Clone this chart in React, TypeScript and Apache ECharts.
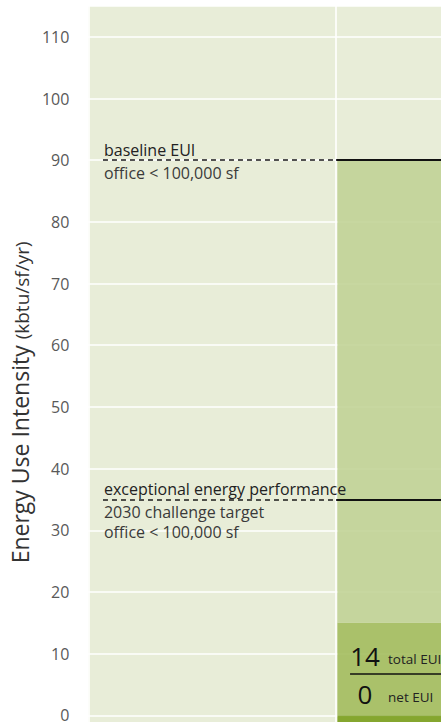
import React, { useEffect, useRef } from "react";
import * as echarts from "echarts";

// ---- data ----
const categories = ["baseline", "design"];
const offsetValues = [null, -15]; // dark segment below zero
const totalValues = [null, 15]; // medium segment 0..15
const remainingValues = [null, 75]; // light segment 15..90

const baselineEUI = 90;
const targetEUI = 35;
const dividerLevel = 6.8;
const totalEUI = 14;
const netEUI = 0;

const baselineTitle = "baseline EUI";
const baselineSub = "office < 100,000 sf";
const targetTitle = "exceptional energy performance";
const targetSub = ["2030 challenge target", "office < 100,000 sf"];

const yMin = -15;
const yMax = 115;

const FONT = "'Open Sans', sans-serif";

export default function App() {
  const ref = useRef<HTMLDivElement>(null);

  useEffect(() => {
    if (!ref.current) return;
    const chart = echarts.init(ref.current, null, { renderer: "svg" });

    const dashStart = 0.059;
    const divStart = 1.056;

    const dashedStyle = { color: "#1a1a1a", width: 1.6, type: [5, 4] as any, opacity: 1 };
    const solidStyle = { color: "#111", width: 2, type: "solid" as any, opacity: 1 };
    const hidden = { color: "rgba(0,0,0,0)", width: 0, opacity: 1 };

    const titleLabel = (text: string) => ({
      show: true,
      position: "insideStartTop",
      distance: [1, 2],
      formatter: text,
      color: "#222",
      fontSize: 16,
      fontFamily: FONT,
    });
    const subLabel = (text: string) => ({
      show: true,
      position: "insideStartBottom",
      distance: [1, 3],
      formatter: text,
      color: "#3a3a3a",
      fontSize: 16,
      lineHeight: 20,
      fontFamily: FONT,
    });
    const noLabel = { show: false };

    const rich = {
      num: { fontSize: 26, width: 30, align: "center", color: "#111", fontFamily: FONT, verticalAlign: "bottom" },
      txt: { fontSize: 13.5, color: "#222", fontFamily: FONT, padding: [0, 0, 3, 8], verticalAlign: "bottom" },
    };

    const option: any = {
      animation: false,
      grid: {
        left: 86,
        top: 6,
        width: 498,
        height: 801.8,
        show: true,
        backgroundColor: "#e8edd8",
        borderWidth: 0,
      },
      xAxis: [
        {
          type: "category",
          data: categories,
          axisLabel: { show: false },
          axisLine: { show: false },
          axisTick: { show: false },
          splitLine: { show: true, interval: 0, lineStyle: { color: "#ffffff", width: 1.6 } },
        },
        { type: "value", min: 0, max: 2, show: false },
      ],
      yAxis: {
        type: "value",
        min: yMin,
        max: yMax,
        splitNumber: 13,
        minInterval: 10,
        maxInterval: 10,
        axisLine: { show: false },
        axisTick: { show: false },
        axisLabel: {
          color: "#595959",
          fontSize: 16,
          fontFamily: FONT,
          margin: 19,
          showMinLabel: false,
          showMaxLabel: false,
        },
        splitLine: { show: true, lineStyle: { color: "#ffffff", width: 1.5 } },
        name: "{a|Energy Use Intensity }{b|(kbtu/sf/yr)}",
        nameLocation: "middle",
        nameRotate: 90,
        nameGap: 55,
        nameTextStyle: {
          padding: [0, 0, 0, 9],
          rich: {
            a: { fontSize: 23, color: "#333", fontFamily: FONT, verticalAlign: "bottom" },
            b: { fontSize: 19, color: "#333", fontFamily: FONT, verticalAlign: "bottom" },
          },
        },
      },
      series: [
        {
          type: "bar",
          stack: "eui",
          data: offsetValues,
          barCategoryGap: "1%",
          itemStyle: { color: "rgba(118,156,23,0.88)" },
        },
        {
          type: "bar",
          stack: "eui",
          data: totalValues,
          barCategoryGap: "1%",
          itemStyle: { color: "rgba(160,187,90,0.88)" },
        },
        {
          type: "bar",
          stack: "eui",
          data: remainingValues,
          barCategoryGap: "1%",
          itemStyle: { color: "rgba(191,209,148,0.88)" },
        },
        {
          type: "line",
          xAxisIndex: 1,
          yAxisIndex: 0,
          data: [],
          silent: true,
          markLine: {
            silent: true,
            symbol: "none",
            animation: false,
            data: [
              [
                { coord: [dashStart, baselineEUI], lineStyle: dashedStyle, label: titleLabel(baselineTitle) },
                { coord: [1, baselineEUI] },
              ],
              [
                { coord: [dashStart, baselineEUI], lineStyle: hidden, label: subLabel(baselineSub) },
                { coord: [1, baselineEUI] },
              ],
              [
                { coord: [1, baselineEUI], lineStyle: solidStyle, label: noLabel },
                { coord: [2, baselineEUI] },
              ],
              [
                { coord: [dashStart, targetEUI], lineStyle: dashedStyle, label: titleLabel(targetTitle) },
                { coord: [1, targetEUI] },
              ],
              [
                { coord: [dashStart, targetEUI], lineStyle: hidden, label: subLabel(targetSub.join("\n")) },
                { coord: [1, targetEUI] },
              ],
              [
                { coord: [1, targetEUI], lineStyle: solidStyle, label: noLabel },
                { coord: [2, targetEUI] },
              ],
              [
                {
                  coord: [divStart, dividerLevel],
                  lineStyle: { color: "#111", width: 1.6, type: "solid", opacity: 1 },
                  label: {
                    show: true,
                    position: "insideStartTop",
                    distance: [0, 4],
                    formatter: `{num|${totalEUI}}{txt|total EUI}`,
                    rich,
                  },
                },
                { coord: [1.95, dividerLevel] },
              ],
              [
                {
                  coord: [divStart, dividerLevel],
                  lineStyle: hidden,
                  label: {
                    show: true,
                    position: "insideStartBottom",
                    distance: [0, 8],
                    formatter: `{num|${netEUI}}{txt|net EUI}`,
                    rich,
                  },
                },
                { coord: [1.95, dividerLevel] },
              ],
            ],
          },
        },
      ],
    };

    chart.setOption(option);
    return () => chart.dispose();
  }, []);

  return (
    <div
      style={{
        position: "fixed",
        left: 0,
        top: 0,
        width: 441,
        height: 722,
        overflow: "hidden",
        background: "#ffffff",
      }}
    >
      <div ref={ref} style={{ width: 700, height: 860 }} />
    </div>
  );
}
